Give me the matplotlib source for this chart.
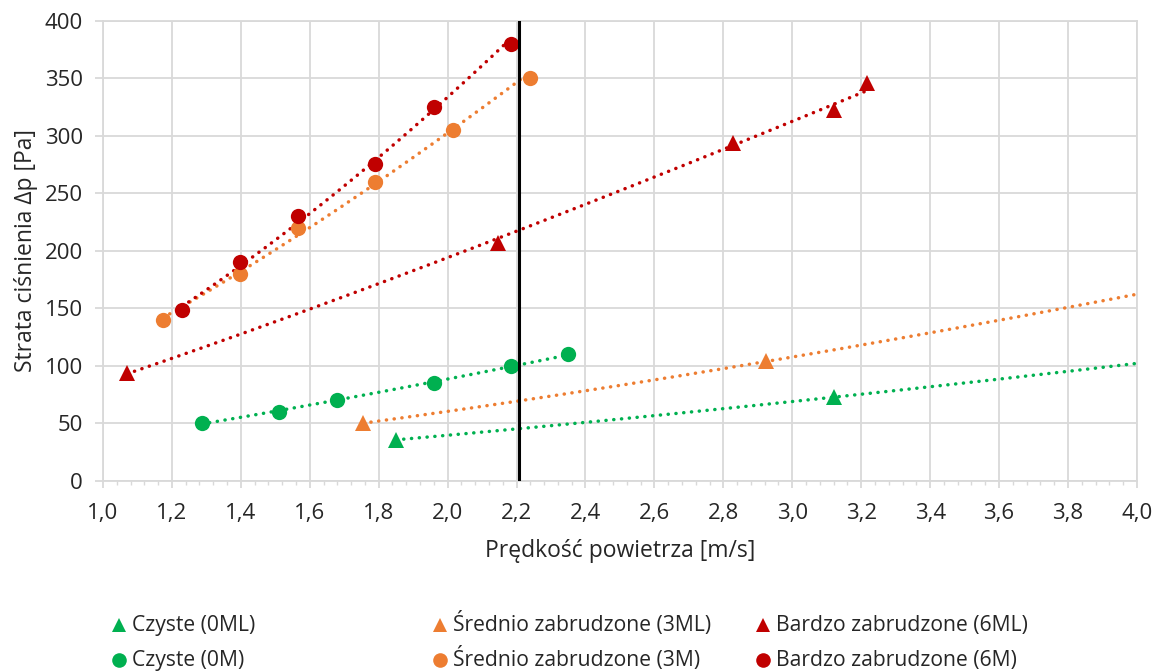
import numpy as np
import matplotlib.pyplot as plt
from matplotlib.lines import Line2D
from matplotlib.ticker import MultipleLocator, FuncFormatter

plt.rcParams['font.family'] = ['Open Sans', 'DejaVu Sans']

# velocities [m/s] and pressure drop [Pa] per filter state
vel_0ML = [1.85, 3.12]
dp_0ML = [35.5, 72.6]
vel_3ML = [1.755, 2.925]
dp_3ML = [50, 103.7]
vel_6ML = [1.07, 2.146, 2.827, 3.121, 3.218]
dp_6ML = [93.5, 207, 294, 322, 346]

vel_0M = [1.287, 1.51, 1.678, 1.96, 2.183, 2.35]
dp_0M = [50, 60, 70, 85, 100, 110]
vel_3M = [1.174, 1.399, 1.566, 1.79, 2.015, 2.238]
dp_3M = [140, 180, 220, 260, 305, 350]
vel_6M = [1.23, 1.399, 1.566, 1.79, 1.96, 2.183]
dp_6M = [148, 190, 230, 275, 325, 380]

v_limit = 2.208
trend_end = {'0ML': 4.0, '3ML': 4.0}

labels = {
    '0ML': 'Czyste (0ML)', '3ML': 'Średnio zabrudzone (3ML)', '6ML': 'Bardzo zabrudzone (6ML)',
    '0M': 'Czyste (0M)', '3M': 'Średnio zabrudzone (3M)', '6M': 'Bardzo zabrudzone (6M)',
}
green, orange, red = '#00B050', '#ED7D31', '#C00000'
series = [
    ('0ML', vel_0ML, dp_0ML, green, '^'),
    ('0M', vel_0M, dp_0M, green, 'o'),
    ('3ML', vel_3ML, dp_3ML, orange, '^'),
    ('3M', vel_3M, dp_3M, orange, 'o'),
    ('6ML', vel_6ML, dp_6ML, red, '^'),
    ('6M', vel_6M, dp_6M, red, 'o'),
]
fs = 16
fs_lab = 16.5
fs_leg = 15.2
txt = '#262626'
W, H = 1158, 672

fig = plt.figure(figsize=(W / 100, H / 100), dpi=100)
ax = fig.add_axes([0.0889, 0.2847, 0.8929, 0.6845])

for key, x, y, col, mk in series:
    x = np.array(x)
    y = np.array(y)
    # power trendline y = a*x^b
    b, lna = np.polyfit(np.log(x), np.log(y), 1)
    xt = np.linspace(x.min(), trend_end.get(key, x.max()), 200)
    ax.plot(xt, np.exp(lna) * xt ** b, color=col, lw=2.5,
            linestyle=(0, (0.05, 2.2)), dash_capstyle='round', zorder=3)
    ax.plot(x, y, linestyle='none', marker=mk, ms=11, color=col,
            markeredgewidth=0, zorder=4)

ax.plot([v_limit, v_limit], [0, 400], color='black', lw=2.2, zorder=5)

ax.set_xlim(1.0, 4.0)
ax.set_ylim(0, 400)
ax.xaxis.set_major_locator(MultipleLocator(0.2))
ax.xaxis.set_minor_locator(MultipleLocator(0.04))
ax.yaxis.set_major_locator(MultipleLocator(50))
ax.xaxis.set_major_formatter(FuncFormatter(lambda v, p: f'{v:.1f}'.replace('.', ',')))
ax.grid(True, which='major', color='#D9D9D9', lw=1.3, zorder=0)
ax.set_axisbelow(True)
for s in ax.spines.values():
    s.set_color('#D9D9D9')
    s.set_linewidth(1.3)
ax.tick_params(axis='x', which='major', length=5, width=1.3, color='#D9D9D9',
               labelsize=fs, pad=11, labelcolor=txt)
ax.tick_params(axis='x', which='minor', length=3, width=1.0, color='#D9D9D9')
ax.tick_params(axis='y', length=5.5, width=1.3, color='#D9D9D9',
               labelsize=fs, pad=9, labelcolor=txt)

ax.set_xlabel('Prędkość powietrza [m/s]', fontsize=fs_lab, color=txt, labelpad=11)
ax.set_ylabel('Strata ciśnienia Δp [Pa]', fontsize=fs_lab, color=txt, labelpad=5)

# legend drawn by hand: 3 columns, triangles top row, circles bottom row
col_px = [119, 440, 763]
row_px = [625, 660]      # marker centres
base_px = [631, 666]     # text baselines
info = {k: (col, mk) for k, _, _, col, mk in series}
for cx, keys in zip(col_px, [('0ML', '0M'), ('3ML', '3M'), ('6ML', '6M')]):
    for k, ry, by in zip(keys, row_px, base_px):
        col, mk = info[k]
        fig.add_artist(Line2D([cx / W], [1 - ry / H], transform=fig.transFigure,
                              linestyle='none', marker=mk, ms=10.5, color=col,
                              markeredgewidth=0))
        fig.text((cx + 13) / W, 1 - by / H, labels[k], fontsize=fs_leg,
                 color=txt, va='baseline', ha='left')

fig.savefig('out.png', dpi=100)
